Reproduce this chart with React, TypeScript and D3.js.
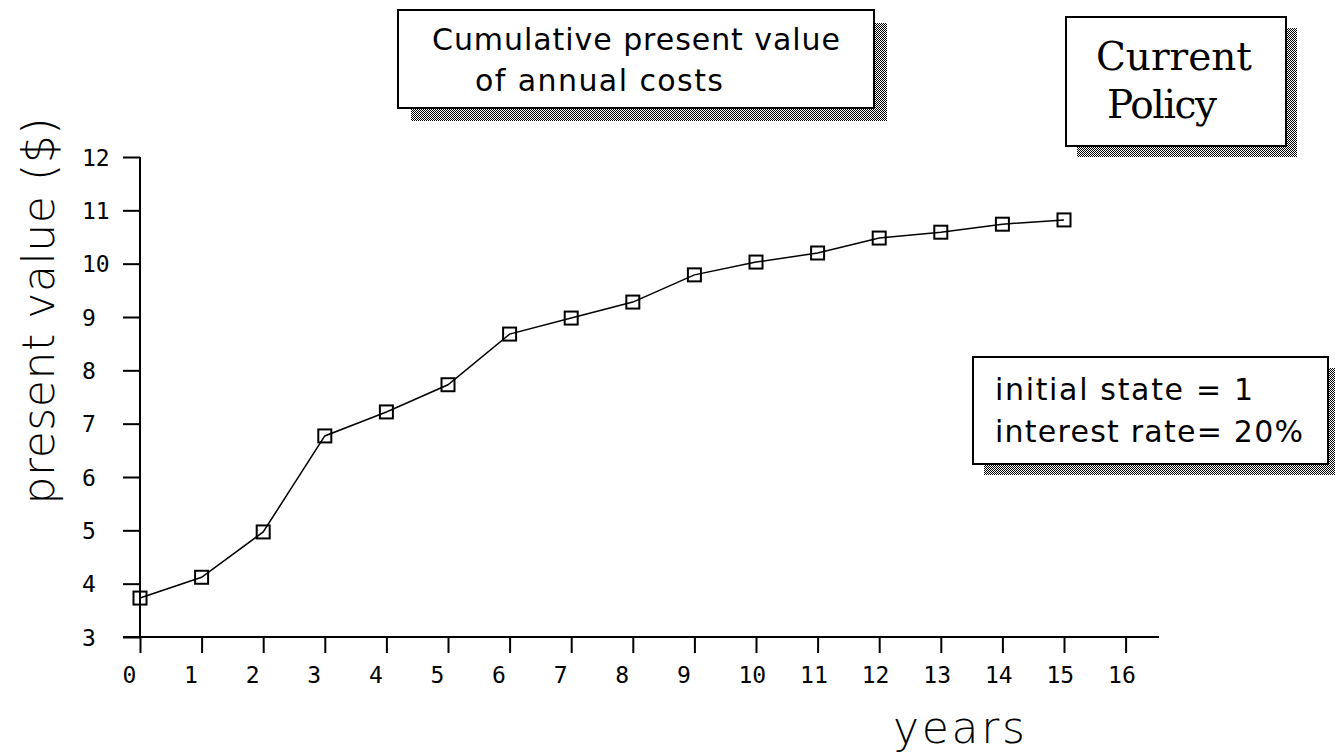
import React, { useEffect, useRef } from "react";
import * as d3 from "d3";

// years 0..15 and the cumulative present value
const years = [0, 1, 2, 3, 4, 5, 6, 7, 8, 9, 10, 11, 12, 13, 14, 15];
const presentValues = [
  3.73, 4.12, 4.97, 6.77, 7.22, 7.73, 8.68, 8.98, 9.28, 9.79, 10.03, 10.2,
  10.48, 10.59, 10.74, 10.82,
];
const xTicks = d3.range(0, 17);
const yTicks = d3.range(3, 13);

const titleLines = ["Cumulative present value", "of annual costs"];
const policyLines = ["Current", "Policy"];
const noteLines = ["initial state = 1", "interest rate= 20%"];

const App: React.FC = () => {
  const ref = useRef<SVGSVGElement | null>(null);

  useEffect(() => {
    const svg = d3.select(ref.current);
    svg.selectAll("*").remove();

    const width = 1335;
    const height = 753;
    const left = 140;
    const bottom = 637;

    const x = d3.scaleLinear().domain([0, 16]).range([left, 1125.6]);
    const y = d3.scaleLinear().domain([3, 12]).range([bottom, 157]);

    svg.attr("width", width).attr("height", height);

    // dithered drop shadow like the old mac boxes
    const pat = svg
      .append("defs")
      .append("pattern")
      .attr("id", "dither")
      .attr("width", 2)
      .attr("height", 2)
      .attr("patternUnits", "userSpaceOnUse");
    pat.append("rect").attr("width", 2).attr("height", 2).attr("fill", "#fff");
    pat.append("rect").attr("x", 0).attr("y", 0).attr("width", 1).attr("height", 1).attr("fill", "#000");
    pat.append("rect").attr("x", 1).attr("y", 1).attr("width", 1).attr("height", 1).attr("fill", "#000");

    const box = (x0: number, y0: number, x1: number, y1: number, off: number) => {
      svg
        .append("rect")
        .attr("x", x0 + off)
        .attr("y", y0 + off)
        .attr("width", x1 - x0)
        .attr("height", y1 - y0)
        .attr("fill", "url(#dither)");
      svg
        .append("rect")
        .attr("x", x0)
        .attr("y", y0)
        .attr("width", x1 - x0)
        .attr("height", y1 - y0)
        .attr("fill", "#fff")
        .attr("stroke", "#000")
        .attr("stroke-width", 2);
    };

    const mono = "'DejaVu Sans Mono', monospace";
    const sans = "'DejaVu Sans', sans-serif";

    // y axis
    const yAxis = svg
      .append("g")
      .attr("transform", `translate(${left},0)`)
      .call(d3.axisLeft(y).tickValues(yTicks).tickSize(17).tickSizeOuter(0));
    yAxis.select(".domain").remove();
    yAxis.selectAll("line").attr("stroke", "#000").attr("stroke-width", 2);
    yAxis
      .selectAll("text")
      .attr("x", -58)
      .attr("text-anchor", "start")
      .attr("dy", "0.36em")
      .style("font-family", mono)
      .style("font-size", "23px")
      .attr("fill", "#000");
    svg
      .append("line")
      .attr("x1", left)
      .attr("x2", left)
      .attr("y1", y(12))
      .attr("y2", bottom)
      .attr("stroke", "#000")
      .attr("stroke-width", 2);

    // x axis
    const xAxis = svg
      .append("g")
      .attr("transform", `translate(0,${bottom})`)
      .call(d3.axisBottom(x).tickValues(xTicks).tickSize(16).tickSizeOuter(0));
    xAxis.select(".domain").remove();
    xAxis.selectAll("line").attr("stroke", "#000").attr("stroke-width", 2);
    xAxis
      .selectAll("text")
      .attr("x", -18)
      .attr("y", 46)
      .attr("dy", 0)
      .attr("text-anchor", "start")
      .style("font-family", mono)
      .style("font-size", "23px")
      .attr("fill", "#000");
    svg
      .append("line")
      .attr("x1", 123)
      .attr("x2", 1159)
      .attr("y1", bottom)
      .attr("y2", bottom)
      .attr("stroke", "#000")
      .attr("stroke-width", 2);

    // axis titles
    svg
      .append("text")
      .attr("transform", `translate(54,311) rotate(-90)`)
      .attr("text-anchor", "middle")
      .attr("textLength", 387)
      .style("font-family", sans)
      .style("font-weight", 300)
      .style("font-size", "44px")
      .text("present value ($)");
    svg
      .append("text")
      .attr("x", 893)
      .attr("y", 743)
      .attr("textLength", 132)
      .style("font-family", sans)
      .style("font-weight", 300)
      .style("font-size", "44px")
      .text("years");

    // series
    const pts = years.map((yr, i) => [yr, presentValues[i]] as [number, number]);
    const line = d3
      .line<[number, number]>()
      .x((d) => x(d[0]))
      .y((d) => y(d[1]));
    svg
      .append("path")
      .datum(pts)
      .attr("fill", "none")
      .attr("stroke", "#000")
      .attr("stroke-width", 1.5)
      .attr("d", line);
    svg
      .selectAll("rect.marker")
      .data(pts)
      .enter()
      .append("rect")
      .attr("class", "marker")
      .attr("x", (d) => x(d[0]) - 6.5)
      .attr("y", (d) => y(d[1]) - 6.5)
      .attr("width", 13)
      .attr("height", 13)
      .attr("fill", "none")
      .attr("stroke", "#000")
      .attr("stroke-width", 2);

    // title box
    box(398, 10, 874, 108, 13);
    svg
      .append("text")
      .attr("x", 432)
      .attr("y", 50)
      .attr("textLength", 408)
      .style("font-family", sans)
      .style("font-size", "30px")
      .text(titleLines[0]);
    svg
      .append("text")
      .attr("x", 475)
      .attr("y", 91)
      .attr("textLength", 248)
      .style("font-family", sans)
      .style("font-size", "30px")
      .text(titleLines[1]);

    // policy box
    box(1066, 17, 1286, 146, 11);
    svg
      .append("text")
      .attr("x", 1096)
      .attr("y", 70)
      .attr("textLength", 156)
      .style("font-family", "'DejaVu Serif', serif")
      .style("font-size", "39px")
      .text(policyLines[0]);
    svg
      .append("text")
      .attr("x", 1107)
      .attr("y", 118)
      .attr("textLength", 110)
      .style("font-family", "'DejaVu Serif', serif")
      .style("font-size", "39px")
      .text(policyLines[1]);

    // parameter note box
    box(973, 357, 1328, 464, 11);
    svg
      .append("text")
      .attr("x", 995)
      .attr("y", 400)
      .attr("textLength", 258)
      .style("font-family", sans)
      .style("font-size", "30px")
      .text(noteLines[0]);
    svg
      .append("text")
      .attr("x", 995)
      .attr("y", 442)
      .attr("textLength", 308)
      .style("font-family", sans)
      .style("font-size", "30px")
      .text(noteLines[1]);
  }, []);

  return (
    <svg
      ref={ref}
      style={{ position: "absolute", left: 0, top: 0, background: "#fff" }}
    ></svg>
  );
};

export default App;
